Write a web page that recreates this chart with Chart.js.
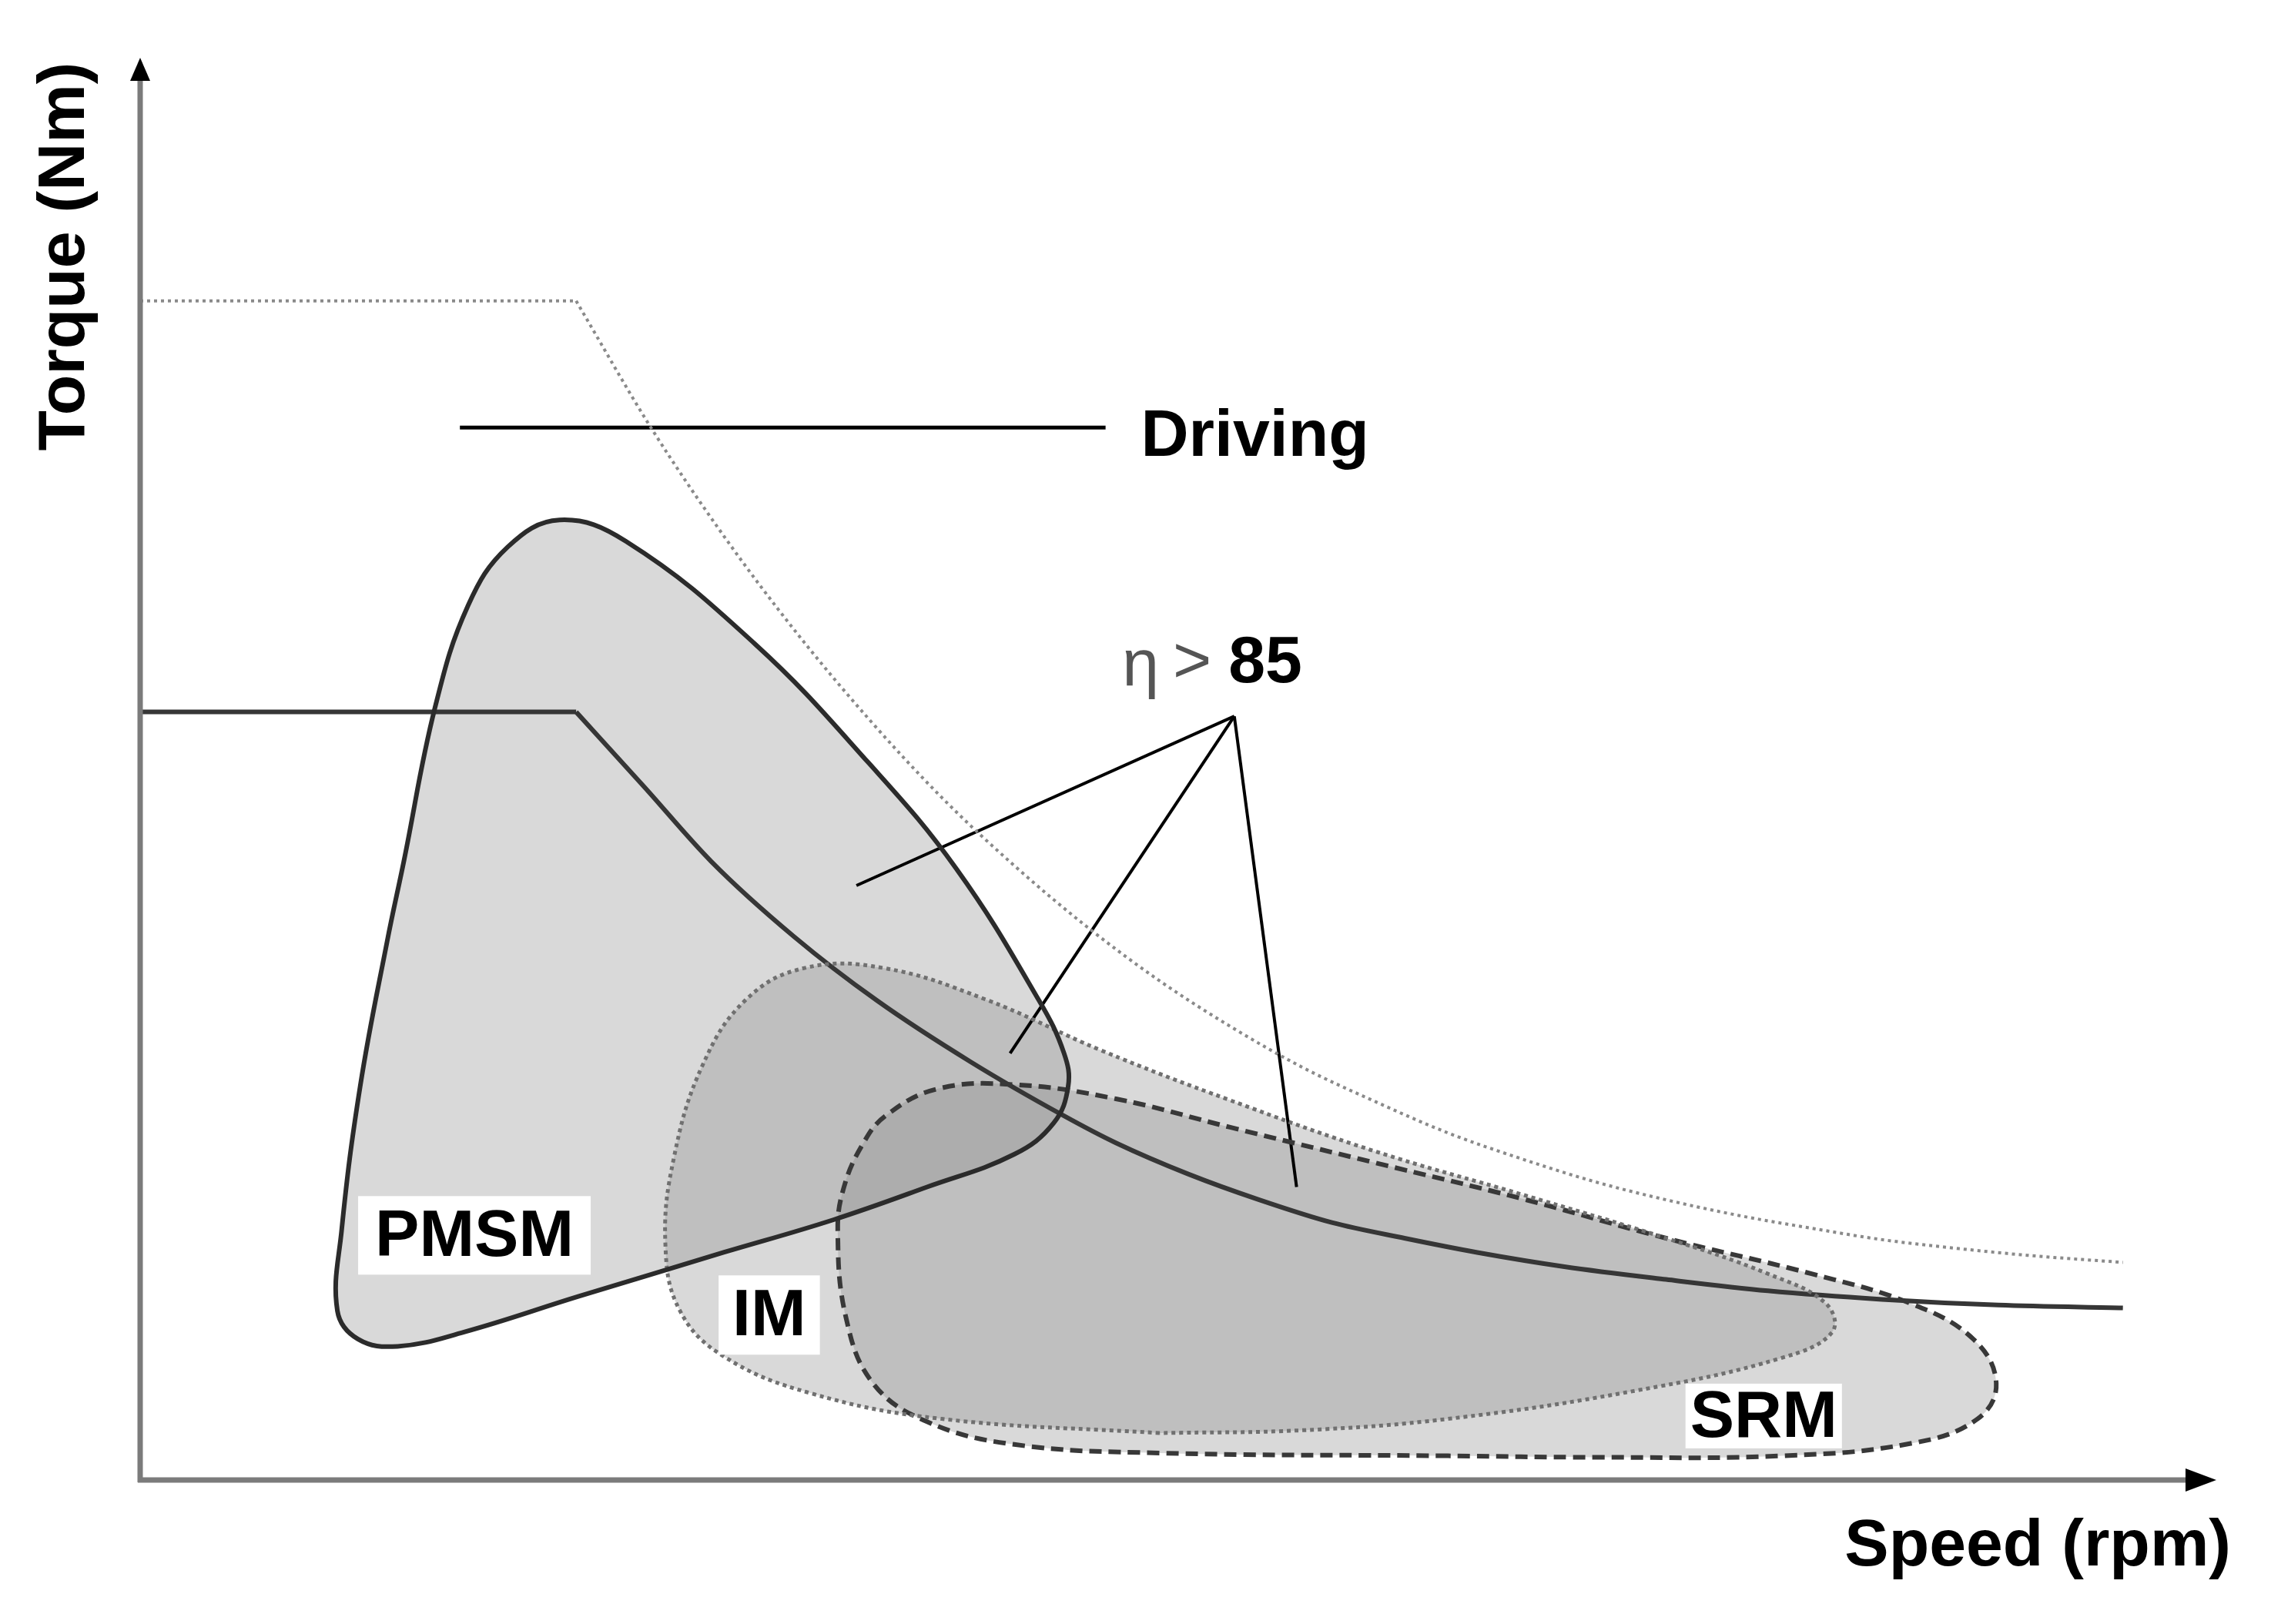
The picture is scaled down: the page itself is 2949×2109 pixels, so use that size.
<!DOCTYPE html>
<html>
<head>
<meta charset="utf-8">
<script src="https://cdn.jsdelivr.net/npm/chart.js@4.4.0/dist/chart.umd.min.js"></script>
<style>
html,body{margin:0;padding:0;background:#fff;}
canvas{display:block;}
</style>
</head>
<body>
<canvas id="grafico" width="2949" height="2109"></canvas>
<script>
// schematic torque-speed map, arbitrary units (0-100 on both axes)
// first two points = constant torque part, the rest = falling part
const drivingX=[0,21.0,24.6,28.1,31.6,35.1,38.6,42.1,45.6,49.1,52.5,56.0,59.5,63.0,66.5,70.0,73.5,77.0,80.5,83.9,87.4,90.9,95.5]
const drivingY=[82.9,82.9,74.0,66.4,59.6,53.5,48.0,43.2,38.9,35.1,31.9,29.0,26.6,24.4,22.6,21.0,19.7,18.6,17.7,16.9,16.3,15.8,15.3]

const motorCurveX=[0,21.0,24.3,27.5,31.5,35.5,40.0,44.5,47.0,50.5,53.9,57.4,60.9,64.4,68.6,73.5,78.4,83.9,89.5,95.5]
const motorCurveY=[54.0,54.0,48.7,43.5,38.2,33.7,29.4,25.6,23.7,21.5,19.7,18.1,17.0,16.0,15.0,14.1,13.3,12.7,12.3,12.1]

const pmsmX=[28.1,21.1,15.6,12.4,10.5,9.5,9.7,10.6,11.9,12.7,14.2,15.8,17.7,20.2,23.4,29.6,35.1,39.3,43.3,44.5,44.7,44.0,42.1,37.9,33.4,28.1]
const pmsmY=[16.0,12.9,10.4,9.4,9.9,11.9,17.5,27.7,37.9,43.5,54.3,61.5,65.6,67.5,66.0,58.8,50.4,43.0,33.7,30.0,27.7,25.1,22.9,20.6,18.3,16.0]

const imX=[49.1,38.6,32.3,28.1,26.0,25.3,25.7,27.1,29.2,32.0,35.8,40.7,46.3,52.5,59.5,66.5,73.5,78.4,81.2,81.5,79.1,72.1,63.0,56.0,49.1]
const imY=[3.3,4.3,6.1,8.7,11.9,16.5,22.6,29.2,33.8,36.0,36.0,33.8,30.2,26.7,23.1,20.1,17.0,14.5,12.4,10.4,8.6,6.3,4.3,3.5,3.3]

const srmX=[63.0,49.1,42.1,37.9,35.3,34.0,33.6,33.9,34.8,35.9,38.4,42.1,47.0,52.5,59.5,66.5,73.5,80.5,85.3,88.3,89.4,88.5,85.4,79.1,70.0,63.0]
const srmY=[1.7,1.9,2.5,4.1,6.8,11.4,17.5,20.6,23.6,25.6,27.5,27.8,26.8,24.8,22.3,19.8,17.0,14.5,12.4,9.9,6.8,4.3,2.6,1.7,1.6,1.7]

// η>85 pointer: apex and the three ends
const pointerApex=[52.7,53.7]
const pointerEndX=[34.5,41.9,55.7]
const pointerEndY=[41.8,30.0,20.6]
// "Driving" pointer
const drivingPointerX=[15.4,46.5]
const drivingPointerY=[74.0,74.0]

const motorLabels=['PMSM','IM','SRM']
const motorLabelX=[16.1,30.3,78.2]
const motorLabelY=[17.2,11.6,4.5]

const pts=(xs,ys)=>xs.map((x,i)=>({x:x,y:ys[i]}))

const FONTE='"Liberation Sans", Arial, sans-serif'

const textos={
id:'textos',
afterDatasetsDraw(chart){
const ctx=chart.ctx
const sx=chart.scales.x, sy=chart.scales.y
ctx.save()
ctx.font='bold 86px '+FONTE
ctx.textBaseline='middle'
// white boxes with motor names
const padX=[22,18,6]
const boxH=[102,103,84]
motorLabels.forEach((t,i)=>{
const cx=sx.getPixelForValue(motorLabelX[i])
const cy=sy.getPixelForValue(motorLabelY[i])
const w=ctx.measureText(t).width+2*padX[i]
ctx.fillStyle='#fff'
ctx.fillRect(cx-w/2,cy-boxH[i]/2,w,boxH[i])
ctx.fillStyle='#000'
ctx.textAlign='center'
ctx.fillText(t,cx,cy+3)
})
// Driving
ctx.textAlign='left'
ctx.fillStyle='#000'
ctx.fillText('Driving',sx.getPixelForValue(48.2),sy.getPixelForValue(73.3))
// η>85
let x=sx.getPixelForValue(47.3)
const y=sy.getPixelForValue(57.4)
ctx.font='86px '+FONTE
ctx.fillStyle='#555'
ctx.fillText('η',x,y+4)
x+=ctx.measureText('η').width+18
ctx.fillText('>',x,y)
x+=ctx.measureText('>').width+22
ctx.font='bold 86px '+FONTE
ctx.fillStyle='#000'
ctx.fillText('85',x,y)
ctx.restore()
}
}

const eixos={
id:'eixos',
afterDraw(chart){
const ctx=chart.ctx
const a=chart.chartArea
ctx.save()
ctx.strokeStyle='#7b7b7b'
ctx.lineWidth=7
ctx.beginPath()
ctx.moveTo(a.left,a.bottom+3)
ctx.lineTo(a.left,a.top+20)
ctx.moveTo(a.left-3,a.bottom)
ctx.lineTo(a.right-24,a.bottom)
ctx.stroke()
ctx.fillStyle='#000'
ctx.beginPath()
ctx.moveTo(a.left,a.top)
ctx.lineTo(a.left+13,a.top+30)
ctx.lineTo(a.left-13,a.top+30)
ctx.closePath()
ctx.fill()
ctx.beginPath()
ctx.moveTo(a.right,a.bottom)
ctx.lineTo(a.right-40,a.bottom-15)
ctx.lineTo(a.right-40,a.bottom+15)
ctx.closePath()
ctx.fill()
// axis titles
ctx.font='bold 86px '+FONTE
ctx.fillStyle='#000'
ctx.textBaseline='middle'
ctx.textAlign='center'
ctx.save()
ctx.translate(a.left-97,a.top+258)
ctx.rotate(-Math.PI/2)
ctx.fillText('Torque (Nm)',0,0)
ctx.restore()
ctx.textAlign='right'
ctx.fillText('Speed (rpm)',a.right+19,a.bottom+87)
ctx.restore()
}
}

const linha=(xs,ys,cor,larg,extra)=>Object.assign({
data:pts(xs,ys),
showLine:true,
fill:false,
borderColor:cor,
borderWidth:larg,
pointRadius:0,
tension:0,
clip:false
},extra||{})

const cinza='rgba(128,128,128,0.3)'

const datasets=[
linha(pmsmX,pmsmY,'#2b2b2b',6,{fill:'shape',backgroundColor:cinza,tension:0.4}),
linha(imX,imY,'#707070',5,{fill:'shape',backgroundColor:cinza,tension:0.4,borderDash:[5,5]}),
linha(srmX,srmY,'#383838',6,{fill:'shape',backgroundColor:cinza,tension:0.4,borderDash:[16,9]}),
// driving curve: flat part + falling part (sharp knee)
linha(drivingX.slice(0,2),drivingY.slice(0,2),'#8a8a8a',4,{borderDash:[4,5]}),
linha(drivingX.slice(1),drivingY.slice(1),'#8a8a8a',4,{cubicInterpolationMode:'monotone',borderDash:[4,5]}),
linha(motorCurveX.slice(0,2),motorCurveY.slice(0,2),'#363636',6),
linha(motorCurveX.slice(1),motorCurveY.slice(1),'#363636',6,{cubicInterpolationMode:'monotone'}),
linha(drivingPointerX,drivingPointerY,'#000',5)
]
pointerEndX.forEach((ex,i)=>{
datasets.push(linha([pointerApex[0],ex],[pointerApex[1],pointerEndY[i]],'#000',4))
})

const ctx_grafico=document.getElementById('grafico')
const grafico=new Chart(ctx_grafico,{
type:'scatter',
data:{datasets:datasets},
options:{
responsive:false,
animation:false,
layout:{padding:{left:182,right:71,top:75,bottom:187}},
scales:{
x:{type:'linear',min:0,max:100,display:false},
y:{type:'linear',min:0,max:100,display:false}
},
plugins:{
legend:{display:false},
tooltip:{enabled:false},
filler:{drawTime:'beforeDatasetsDraw'}
}
},
plugins:[textos,eixos]
})
</script>
</body>
</html>
